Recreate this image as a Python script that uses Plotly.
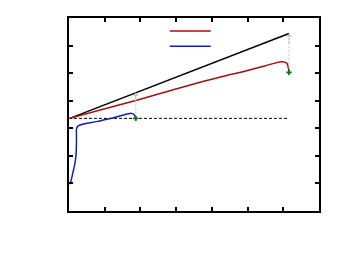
import plotly.graph_objects as go

# Data (axis units 0..7)
black_x = [0.02, 6.16]
black_y = [3.36, 6.44]

dash_x = [0.0, 6.16]
dash_y = [3.36, 3.36]

red_x = [0.02, 0.9, 1.87, 2.9, 3.94, 4.97, 5.5, 5.81, 5.95, 6.04, 6.10, 6.13, 6.15, 6.16]
red_y = [3.36, 3.67, 4.01, 4.39, 4.76, 5.09, 5.27, 5.38, 5.41, 5.40, 5.36, 5.26, 5.14, 5.03]

blue_x = [0.02, 0.06, 0.11, 0.17, 0.20, 0.21, 0.22, 0.27, 0.8, 1.3, 1.70, 1.78, 1.83, 1.87]
blue_y = [0.97, 1.11, 1.40, 1.75, 2.10, 2.60, 3.03, 3.10, 3.25, 3.40, 3.54, 3.53, 3.48, 3.36]

mark_x = [1.87, 6.16]
mark_y = [3.36, 5.03]
arrow_top = [4.29, 6.44]

fig = go.Figure()
fig.add_trace(go.Scatter(x=dash_x, y=dash_y, mode="lines",
                         line=dict(color="black", width=1, dash="3px,2px"), showlegend=False))
fig.add_trace(go.Scatter(x=black_x, y=black_y, mode="lines",
                         line=dict(color="black", width=1.5), showlegend=False))
fig.add_trace(go.Scatter(x=red_x, y=red_y, mode="lines", line_shape="spline",
                         line=dict(color="#a01010", width=1.5), showlegend=False))
fig.add_trace(go.Scatter(x=blue_x, y=blue_y, mode="lines", line_shape="spline",
                         line=dict(color="#1020b0", width=1.5), showlegend=False))

for xm, y0, y1 in zip(mark_x, mark_y, arrow_top):
    fig.add_trace(go.Scatter(x=[xm, xm], y=[y0, y1], mode="lines",
                             line=dict(color="#c0c0c0", width=1, dash="2px,2px"), showlegend=False))
    fig.add_annotation(x=xm, y=y1, ax=0, ay=12, xref="x", yref="y",
                       text="", showarrow=True, arrowhead=1, arrowsize=1.3,
                       arrowwidth=0.8, arrowcolor="#c0c0c0")

fig.add_trace(go.Scatter(x=mark_x, y=mark_y, mode="markers",
                         marker=dict(color="#107010", size=4.5, symbol="cross"), showlegend=False))

# legend samples (no text)
fig.add_shape(type="line", xref="paper", yref="paper", x0=0.403, x1=0.567, y0=0.932, y1=0.932,
              line=dict(color="#a01010", width=1.5))
fig.add_shape(type="line", xref="paper", yref="paper", x0=0.403, x1=0.567, y0=0.853, y1=0.853,
              line=dict(color="#1020b0", width=1.5))

axis_common = dict(showgrid=False, zeroline=False, showline=True, linecolor="black", linewidth=2,
                   mirror="allticks", ticks="inside", ticklen=4, tickwidth=1.5, tickcolor="black",
                   showticklabels=False, dtick=1)
fig.update_xaxes(range=[0, 7], **axis_common)
fig.update_yaxes(range=[0, 7], **axis_common)

fig.update_layout(width=338, height=253, margin=dict(l=61, r=27, t=8, b=50),
                  paper_bgcolor="white", plot_bgcolor="white", showlegend=False)

fig.write_html("out.html")
